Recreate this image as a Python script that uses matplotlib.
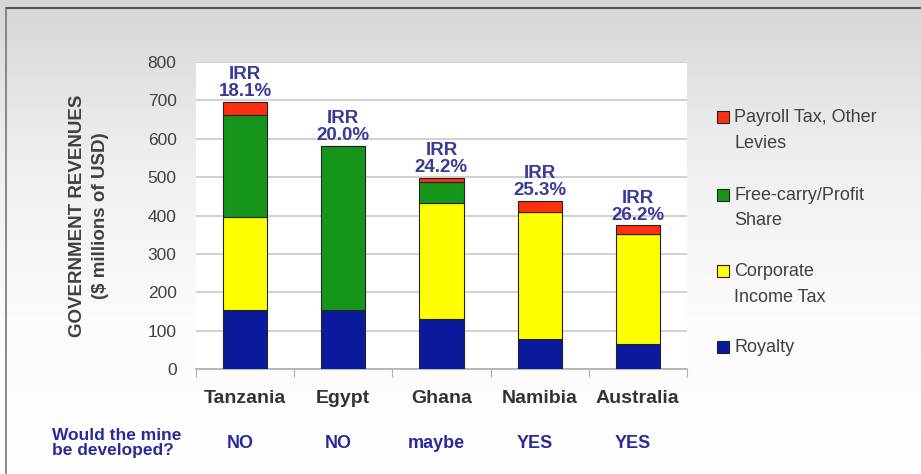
import numpy as np
import matplotlib
matplotlib.use("Agg")
import matplotlib.pyplot as plt
from matplotlib.colors import LinearSegmentedColormap
from matplotlib.patches import Rectangle

countries = ["Tanzania", "Egypt", "Ghana", "Namibia", "Australia"]
royalty = [153, 153, 130, 78, 65]
corporate_tax = [243, 0, 303, 330, 287]
free_carry = [266, 428, 55, 0, 0]
payroll = [34, 0, 11, 29, 22]
irr = ["18.1%", "20.0%", "24.2%", "25.3%", "26.2%"]
developed = ["NO", "NO", "maybe", "YES", "YES"]

series_names = ["Royalty", "Corporate\nIncome Tax", "Free-carry/Profit\nShare", "Payroll Tax, Other\nLevies"]
series_vals = [royalty, corporate_tax, free_carry, payroll]
colors = ["#0b1a9c", "#ffff00", "#16951a", "#ff3010"]

plt.rcParams['font.family'] = ['Liberation Sans', 'DejaVu Sans']

fig = plt.figure(figsize=(9.21, 4.74), dpi=100)

# background gradient
bg = fig.add_axes([0, 0, 1, 1], zorder=-10)
grad = np.linspace(0, 1, 256).reshape(-1, 1)
cmap = LinearSegmentedColormap.from_list("g", ["#d6d6d6", "#efefef", "#fbfbfb", "#ffffff"])
bg.imshow(grad, aspect="auto", cmap=cmap, extent=[0, 1, 0, 1], origin="upper")
bg.set_xlim(0, 1); bg.set_ylim(0, 1)
bg.axis("off")
bg.plot([0.007, 1.0], [0.983, 0.983], color="#555555", lw=1.5)
bg.plot([0.007, 0.007], [0.0, 0.983], color="#777777", lw=1.2)

ax = fig.add_axes([0.2128, 0.2215, 0.533, 0.6477])
ax.set_facecolor("white")
x = np.arange(len(countries))
bottom = np.zeros(len(countries))
handles = []
for name, vals, c in zip(series_names, series_vals, colors):
    vals = np.array(vals, dtype=float)
    b = ax.bar(x, vals, 0.45, bottom=bottom, color=c, edgecolor="#222222", linewidth=0.8, zorder=3, label=name)
    handles.append(b)
    bottom += vals

ax.set_xlim(-0.5, 4.5)
ax.set_ylim(0, 800)
ax.set_yticks(np.arange(0, 801, 100))
ax.yaxis.grid(True, color="#c8c8c8", lw=1.2, zorder=0)
ax.tick_params(axis="y", length=0, labelsize=12.5, labelcolor="#404040", pad=14)
ax.set_xticks(np.arange(-0.5, 5.0, 1.0))
ax.set_xticklabels([])
ax.tick_params(axis="x", length=6, color="#b0b0b0", direction="out")
for s in ["left", "right", "top"]:
    ax.spines[s].set_visible(False)
ax.spines["bottom"].set_color("#b0b0b0")
ax.spines["bottom"].set_linewidth(1.2)

for i, c in enumerate(countries):
    ax.text(i, -78, c, ha="center", va="center", fontsize=14, fontweight="bold", color="#333333",
            clip_on=False)
    ax.text(i, bottom[i] + 5, "IRR\n" + irr[i], ha="center", va="bottom", fontsize=13.5,
            fontweight="bold", color="#3a3a9a", linespacing=1.0)
    ax.text(i - 0.05, -193, developed[i], ha="center", va="center", fontsize=13,
            fontweight="bold", color="#2a2a9a", clip_on=False)

ax.text(-1.97, -193, "Would the mine\nbe developed?", ha="left", va="center", fontsize=12.5,
        fontweight="bold", color="#2a2a9a", linespacing=1.0, clip_on=False)

ax.set_ylabel("GOVERNMENT REVENUES\n($ millions of USD)", fontsize=13.5, fontweight="bold",
              color="#404040", labelpad=28, linespacing=1.45)

# legend drawn with first line aligned to the marker
W, H = 921.0, 474.0
leg_y = [117, 195, 271, 347]
for name, c, yp in zip(series_names[::-1], colors[::-1], leg_y):
    fig.patches.append(Rectangle((717 / W, 1 - (yp + 6) / H), 12 / W, 12 / H, transform=fig.transFigure,
                                 facecolor=c, edgecolor="#222222", linewidth=0.8))
    lines = name.split("\n")
    for k, ln in enumerate(lines):
        fig.text(734 / W, 1 - (yp + 26 * k) / H, ln, ha="left", va="center", fontsize=13, color="#404040")

fig.savefig("out.png", dpi=100)
